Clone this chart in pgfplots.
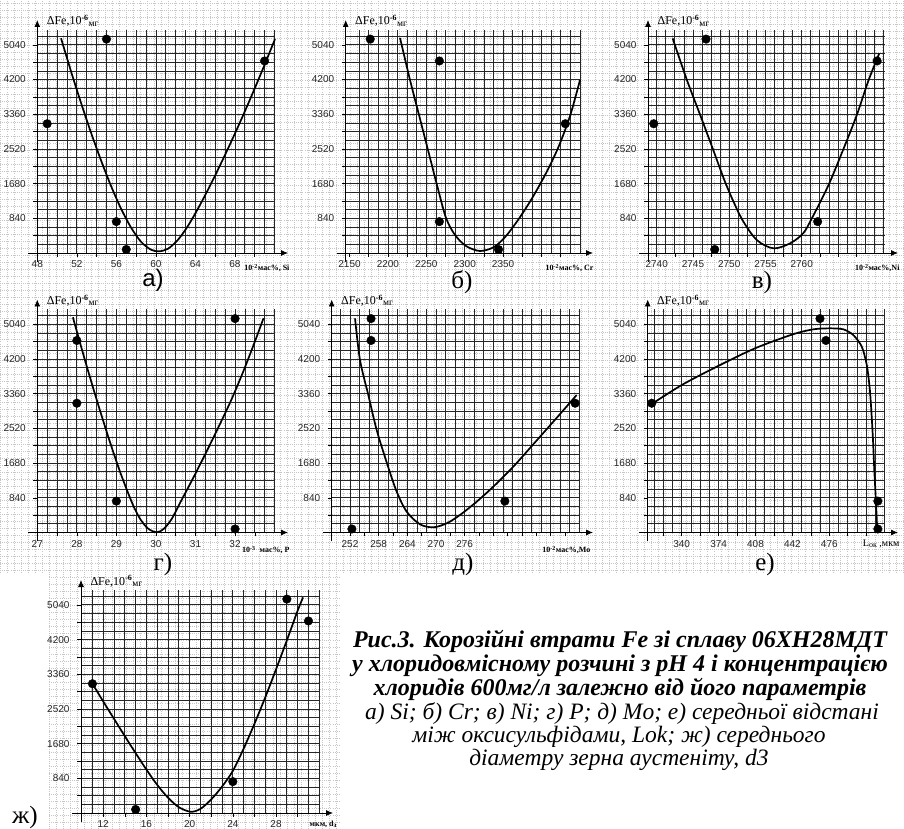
\documentclass[border=0pt]{standalone}
\usepackage{fontspec}
\setmainfont{Liberation Serif}
\newfontfamily\sansf{Liberation Sans}
\usepackage{pgfplots}
\pgfplotsset{compat=1.18}
\usetikzlibrary{arrows.meta}

\newcommand\dfe{ΔFe,10\textsuperscript{\textbf{-6}}\raisebox{-1.5pt}{\fontsize{9.5}{9.5}\selectfont мг}}

\pgfplotsset{
  panel/.style={
    scale only axis, height=223pt, anchor=south west,
    axis lines=left, clip=false,
    ymin=0, ymax=5400,
    ytick={420,840,...,5040},
    yticklabels={,840,,1680,,2520,,3360,,4200,,5040},
    minor ytick={210,420,...,5400},
    xmajorgrids=false, ymajorgrids=false, xminorgrids=true, yminorgrids=true,
    minor grid style={black!85, line width=0.75pt},
    axis line style={black, line width=0.8pt, -{Latex[length=7pt,width=6pt]}},
    x axis line style={shorten <=-9pt, shorten >=-13pt},
    y axis line style={shorten <=-9pt, shorten >=-10pt},
    tick align=outside, major tick length=4pt, minor tick length=0pt,
    tick style={black, line width=0.6pt},
    ticklabel style={font=\sansf\fontsize{10}{10}\selectfont, text=black!85},
    yticklabel style={xshift=-4pt},
  },
  curve/.style={black, line width=1.7pt, smooth, tension=0.5, no markers},
  dots/.style={only marks, mark=*, mark size=4.3pt, black},
}
\tikzset{
  ylab/.style={anchor=base west, xshift=6pt, yshift=5pt, font=\fontsize{12}{12}\selectfont},
  xlab/.style={anchor=base east, font=\bfseries\fontsize{8}{8}\selectfont},
  plab/.style={anchor=base, font=\fontsize{25}{25}\selectfont},
  capb/.style={anchor=base, font=\bfseries\itshape\fontsize{24}{24}\selectfont},
  capi/.style={anchor=base, font=\itshape\fontsize{23.5}{23.5}\selectfont},
}

\begin{document}
\begin{tikzpicture}
\path[use as bounding box] (0pt,0pt) rectangle (904pt,829pt);
% graph-paper dots behind the panels
\draw[gray!45, line width=0.5pt, dash pattern=on 0.5pt off 1.6pt, step=7pt]
  (0pt,256pt) grid (904pt,829pt);
\draw[gray!45, line width=0.5pt, dash pattern=on 0.5pt off 1.6pt, step=7pt]
  (49pt,0pt) grid (340pt,256pt);

% a) Si
\begin{axis}[panel, at={(37.3pt,576pt)}, width=237.7pt, xmin=48, xmax=72.05,
  xtick={48,50,...,70}, xticklabels={48,,52,,56,,60,,64,,68,},
  minor xtick={49,50,...,72}]
\addplot[curve] coordinates {(50.4,5200)(51.5,4330)(52.5,3580)(53.5,2870)
  (54.5,2210)(55.5,1600)(56.5,1060)(57.5,610)(58.5,270)(59.5,80)(60.3,40)
  (61.2,100)(62.2,310)(63.2,640)(64.2,1050)(65.2,1500)(66.2,1980)(67.2,2480)
  (68.2,3000)(69.2,3540)(70.2,4100)(71.0,4560)(72.05,5180)};
\addplot[dots] coordinates {(49,3130)(55,5180)(56,760)(57,85)(71,4650)};
\node[ylab] at (rel axis cs:0,1) {\dfe};
\end{axis}

% b) Cr
\begin{axis}[panel, at={(345.7pt,576pt)}, width=234.3pt, xmin=2145.05, xmax=2450.1,
  xtick={2150,2175,...,2425}, xticklabels={2150,,2200,,2250,,2300,,2350,,,},
  minor xtick={2162.5,2175,...,2450}]
\addplot[curve] coordinates {(2215.8,5206)(2228.8,4189)(2240.5,3341)(2252.2,2494)
  (2263.9,1646)(2275.7,847)(2287.4,436)(2301.7,169)(2319.9,48)(2338.2,145)
  (2353.8,412)(2369.4,799)(2386.3,1283)(2404.6,1889)(2421.5,2542)(2437.1,3317)
  (2450.1,4189)};
\addplot[dots] coordinates {(2177,5180)(2267,4650)(2267,760)(2344,85)(2431,3130)};
\node[ylab] at (rel axis cs:0,1) {\dfe};
\end{axis}

% c) Ni
\begin{axis}[panel, at={(648pt,576pt)}, width=237pt, xmin=2738.8, xmax=2771.49,
  xtick={2740,2742.5,...,2767.5}, xticklabels={2740,,2745,,2750,,2755,,2760,,,},
  minor xtick={2740,2741.25,...,2771.25}]
\addplot[curve] coordinates {(2742.2,5197)(2744.2,4173)(2746.0,3341)(2747.8,2494)
  (2749.6,1646)(2751.7,839)(2753.8,315)(2756.1,113)(2758.4,234)(2760.2,476)
  (2761.4,839)(2763.7,1646)(2765.7,2494)(2767.6,3341)(2769.2,4173)(2770.7,4835)};
\addplot[dots] coordinates {(2739.6,3130)(2746.8,5180)(2748,85)(2762.2,760)(2770.4,4650)};
\node[ylab] at (rel axis cs:0,1) {\dfe};
\end{axis}

% d) P
\begin{axis}[panel, at={(37.3pt,296.5pt)}, width=237.7pt, xmin=27, xmax=33.01,
  xtick={27,27.5,...,32.5}, xticklabels={27,,28,,29,,30,,31,,32,},
  minor xtick={27.25,27.5,...,33}]
\addplot[curve] coordinates {(27.9,5210)(28.2,4190)(28.5,3220)(28.8,2300)
  (29.1,1450)(29.4,710)(29.6,330)(29.8,95)(30.02,5)(30.2,90)(30.4,330)
  (30.6,700)(30.8,1060)(31.0,1430)(31.3,2000)(31.6,2590)(31.9,3200)
  (32.2,3880)(32.5,4620)(32.72,5190)};
\addplot[dots] coordinates {(28,4650)(28,3130)(29,760)(32,5180)(32,85)};
\node[ylab] at (rel axis cs:0,1) {\dfe};
\end{axis}

% e) Mo
\begin{axis}[panel, at={(331.7pt,296.5pt)}, width=248.3pt, xmin=248.17, xmax=300.12,
  xtick={252,255,...,297}, xticklabels={252,,258,,264,,270,,276,,,,,,},
  minor xtick={250,252,...,300}]
\addplot[curve] coordinates {(253.05,5186)(254.09,4177)(255.83,3329)(257.58,2482)
  (259.81,1650)(261.77,989)(263.86,504)(266.64,198)(269.43,126)(272.23,222)
  (275.01,424)(278.5,746)(281.97,1109)(286.16,1593)(290.34,2135)(294.53,2683)
  (299.42,3329)};
\addplot[dots] coordinates {(252.4,85)(256.4,5180)(256.4,4650)(284.4,760)(299.1,3130)};
\node[ylab] at (rel axis cs:0,1) {\dfe};
\end{axis}

% f) Lok
\begin{axis}[panel, at={(647.7pt,296.5pt)}, width=237.3pt, xmin=308.67, xmax=527.3,
  xtick={323,340,...,510}, xticklabels={,340,,374,,408,,442,,476,,},
  minor xtick={314.5,323,...,527}]
\addplot[curve, tension=0.45] coordinates {(312.36,3111)(340,3571)(372.25,4015)(407.5,4460)
  (442.3,4798)(461.3,4920)(476.6,4944)(488.9,4920)(498.1,4782)(505.9,4500)
  (510.5,4056)(513.5,3410)(516.0,2361)(517.5,1473)(519.1,666)(520.2,20)};
\addplot[dots] coordinates {(312.4,3130)(467.4,5180)(472.9,4650)(520.7,760)(520.7,85)};
\node[ylab] at (rel axis cs:0,1) {\dfe};
\end{axis}

% g) d3
\begin{axis}[panel, at={(81pt,16pt)}, width=239pt, xmin=9.94, xmax=32.07,
  xtick={12,14,...,30}, xticklabels={12,,16,,20,,24,,28,},
  minor xtick={11,12,...,32}]
\addplot[curve] coordinates {(11.07,3100)(12,2700)(13,2280)(14,1860)(15,1450)
  (16,1050)(17,680)(18,370)(19,140)(20.1,30)(21,100)(22,330)(23,640)(24,1020)
  (25,1560)(26,2160)(27,2800)(28,3480)(29,4180)(30,4900)(30.5,5220)};
\addplot[dots] coordinates {(11,3130)(15,85)(24,760)(29,5180)(31,4650)};
\node[ylab] at (rel axis cs:0,1) {\dfe};
\end{axis}

% axis names
\node[xlab] at (293pt,558pt) {10\textsuperscript{-2}мас\%, Si};
\node[xlab] at (597pt,558pt) {10\textsuperscript{-2}мас\%, Cr};
\node[xlab] at (903pt,558pt) {10\textsuperscript{-2}мас\%,Ni};
\node[xlab] at (293pt,276pt) {10\textsuperscript{-3}\ \ мас\%, P};
\node[xlab] at (594pt,276pt) {10\textsuperscript{-2}мас\%,Mo};
\node[anchor=base east, font=\fontsize{10}{10}\selectfont] at (903pt,282pt) {L\raisebox{-1pt}{\fontsize{8}{8}\selectfont ок} ,мкм};
\node[xlab] at (340pt,2pt) {мкм, d\raisebox{-1pt}{\fontsize{7}{7}\selectfont з}};

% panel letters
\node[plab, font=\sansf\fontsize{24}{24}\selectfont] at (153pt,542pt) {а)};
\node[plab] at (462pt,540pt) {б)};
\node[plab] at (762pt,540pt) {в)};
\node[plab] at (163pt,258pt) {г)};
\node[plab] at (463pt,258pt) {д)};
\node[plab] at (765pt,258pt) {е)};
\node[plab] at (25pt,5pt) {ж)};

% caption
\node[capb] at (620pt,181pt) {Рис.3. Корозійні втрати Fe зі сплаву 06ХН28МДТ};
\node[capb] at (620pt,157pt) {у хлоридовмісному розчині з pH 4 і концентрацією};
\node[capb] at (620pt,133pt) {хлоридів 600мг/л залежно від його параметрів};
\node[capi] at (622pt,109pt) {а) Si; б) Cr; в) Ni; г) P; д) Mo; е) середньої відстані};
\node[capi] at (619pt,86pt) {між оксисульфідами, Lok; ж) середнього};
\node[capi] at (619pt,63pt) {діаметру зерна аустеніту, d3};
\end{tikzpicture}
\end{document}
